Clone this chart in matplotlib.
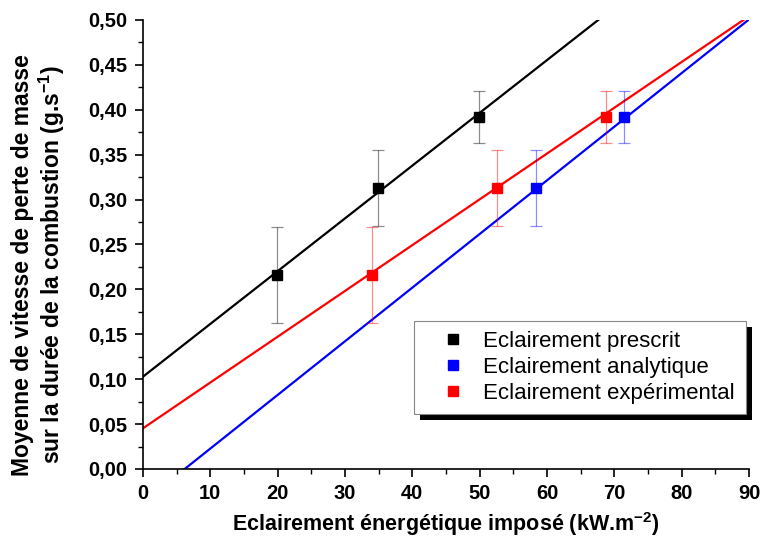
import matplotlib.pyplot as plt
from matplotlib.lines import Line2D
from matplotlib.patches import Rectangle
import numpy as np

plt.rcParams['font.family'] = 'Liberation Sans'
plt.rcParams['mathtext.fontset'] = 'custom'
plt.rcParams['mathtext.rm'] = 'Liberation Sans'
plt.rcParams['mathtext.bf'] = 'Liberation Sans:bold'

# measured points (x = irradiance, y = mean mass loss rate, err = half range)
x_prescrit = [19.95, 34.95, 49.95]
y_prescrit = [0.216, 0.313, 0.392]
x_analytique = [58.4, 71.5]
y_analytique = [0.313, 0.392]
x_experimental = [34.05, 52.5, 68.8]
y_experimental = [0.216, 0.313, 0.392]
err_3 = [0.053, 0.042, 0.029]
err_2 = [0.042, 0.029]

# linear fits (intercept, slope)
fit_prescrit = (0.1028, 0.005876)
fit_analytique = (-0.0370, 0.005974)
fit_experimental = (0.0453, 0.005100)

labels = ["Eclairement prescrit", "Eclairement analytique", "Eclairement expérimental"]
colors = ["black", "#0000ff", "#ff0000"]

fig = plt.figure(figsize=(7.63, 5.42), dpi=100)
ax = fig.add_axes([0.1874, 0.1347, 0.7943, 0.8284])

series = [
    (x_prescrit, y_prescrit, err_3, fit_prescrit),
    (x_analytique, y_analytique, err_2, fit_analytique),
    (x_experimental, y_experimental, err_3, fit_experimental),
]
xs = np.linspace(0, 90, 200)
for (x, y, e, fit), c in zip(series, colors):
    ax.plot(xs, fit[0] + fit[1] * xs, color=c, lw=1.6, zorder=2)
    ax.errorbar(x, y, yerr=e, fmt='none', ecolor=c, alpha=0.45, elinewidth=0.9,
                capsize=4, capthick=0.9, zorder=3)
    ax.plot(x, y, 's', color=c, ms=7, zorder=4)

ax.set_xlim(0, 90)
ax.set_ylim(0, 0.5)
ax.set_xticks(range(0, 91, 10))
ax.set_xticks(range(5, 90, 10), minor=True)
yt = np.arange(0, 0.501, 0.05)
ax.set_yticks(yt)
ax.set_yticklabels([f"{v:.2f}".replace('.', ',') for v in yt])
ax.set_yticks(np.arange(0.025, 0.5, 0.05), minor=True)
ax.spines['top'].set_visible(False)
ax.spines['right'].set_visible(False)
for s in ['left', 'bottom']:
    ax.spines[s].set_linewidth(1.2)
ax.tick_params(which='major', direction='out', length=6, width=1.2, labelsize=14.5, pad=5)
ax.tick_params(which='minor', direction='out', length=3.5, width=1.0)
for t in ax.get_xticklabels() + ax.get_yticklabels():
    t.set_fontweight('bold')

ax.set_xlabel(r"Eclairement énergétique imposé (kW.m$\mathbf{^{-2}}$)", fontsize=15.5,
              fontweight='bold')
ax.xaxis.set_label_coords(0.5, -0.092)
ax.set_ylabel("Moyenne de vitesse de perte de masse\n" + r"sur la durée de la combustion (g.s$\mathbf{^{-1}}$)",
              fontsize=16.5, fontweight='bold', linespacing=1.15)
ax.yaxis.set_label_coords(-0.125, 0.455)

handles = [Line2D([], [], marker='s', ls='none', color=c, ms=7) for c in colors]
leg = ax.legend(handles, labels, loc='lower left', bbox_to_anchor=(0.447, 0.1225, 0.548, 0.2),
                mode='expand', borderaxespad=0, fancybox=False, framealpha=1,
                edgecolor='#888888', fontsize=16, handletextpad=0.05, labelspacing=0.22,
                borderpad=0.45, handlelength=2.6)
leg.get_frame().set_linewidth(0.8)
leg.set_zorder(10)

fig.canvas.draw()
bb = leg.get_window_extent().transformed(fig.transFigure.inverted())
dx, dy = 6 / 763, 6 / 542
ax.add_patch(Rectangle((bb.x0 + dx, bb.y0 - dy), bb.width, bb.height, transform=fig.transFigure,
                       facecolor='black', edgecolor='none', zorder=9, clip_on=False))

fig.savefig("out.png", dpi=100)
